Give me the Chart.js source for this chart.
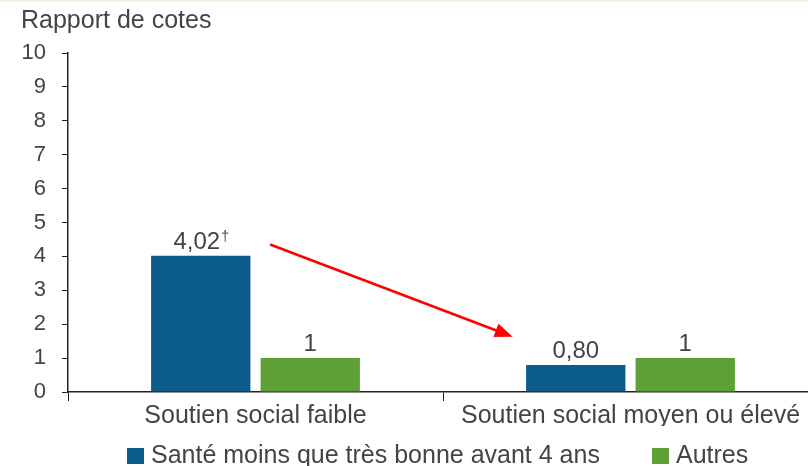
<!DOCTYPE html>
<html>
<head>
<meta charset="utf-8">
<script src="https://cdn.jsdelivr.net/npm/chart.js@4.4.0/dist/chart.umd.min.js"></script>
<style>
  html, body { margin: 0; padding: 0; background: #fff; overflow: hidden; }
  #wrap { width: 808px; height: 466px; position: relative; overflow: hidden; border-top: 2px solid #eef6e2; box-sizing: border-box; }
</style>
</head>
<body>
<div id="wrap"><canvas id="chart" width="818" height="464"></canvas></div>
<script>
// Chart data
const categories = ["Soutien social faible", "Soutien social moyen ou élevé"];
const seriesNames = ["Santé moins que très bonne avant 4 ans", "Autres"];
const santeValues = [4.02, 0.80];
const autresValues = [1, 1];
const santeLabels = ["4,02\u2020", "0,80"];
const autresLabels = ["1", "1"];
const yTicks = [0, 1, 2, 3, 4, 5, 6, 7, 8, 9, 10];

const textColor = '#444444';
const fontFamily = '"Liberation Sans", Arial, sans-serif';

// axis title at top left
const topTitle = {
  id: 'topTitle',
  afterDraw(chart) {
    const ctx = chart.ctx;
    ctx.save();
    ctx.fillStyle = textColor;
    ctx.font = '25px ' + fontFamily;
    ctx.textAlign = 'left';
    ctx.textBaseline = 'middle';
    ctx.fillText('Rapport de cotes', 21, 19);
    ctx.restore();
  }
};

// legend under the x labels
const bottomLegend = {
  id: 'bottomLegend',
  afterDraw(chart) {
    const ctx = chart.ctx;
    const starts = [127, 652];
    ctx.save();
    ctx.font = '25px ' + fontFamily;
    ctx.textBaseline = 'middle';
    chart.data.datasets.forEach((ds, i) => {
      ctx.fillStyle = ds.backgroundColor;
      ctx.fillRect(starts[i], 446, 17, 16);
      ctx.fillStyle = textColor;
      ctx.fillText(ds.label, starts[i] + 24, 454);
    });
    ctx.restore();
  }
};

// value labels above the bars (dagger drawn as a small superscript)
const valueLabels = {
  id: 'valueLabels',
  afterDatasetsDraw(chart) {
    const ctx = chart.ctx;
    const texts = [santeLabels, autresLabels];
    ctx.save();
    ctx.fillStyle = textColor;
    ctx.textBaseline = 'alphabetic';
    chart.data.datasets.forEach((ds, i) => {
      chart.getDatasetMeta(i).data.forEach((bar, j) => {
        const t = texts[i][j];
        const main = t.replace('\u2020', '');
        const sup = t.length > main.length ? '\u2020' : '';
        ctx.font = '24px ' + fontFamily;
        const w = ctx.measureText(main).width;
        ctx.font = '14px ' + fontFamily;
        const ws = sup ? ctx.measureText(sup).width : 0;
        const x0 = bar.x - (w + ws) / 2;
        ctx.textAlign = 'left';
        ctx.font = '24px ' + fontFamily;
        ctx.fillText(main, x0, bar.y - 7);
        if (sup) {
          ctx.font = '14px ' + fontFamily;
          ctx.fillText(sup, x0 + w + 1, bar.y - 15);
        }
      });
    });
    ctx.restore();
  }
};

// red arrow between the two groups
const arrow = {
  id: 'arrow',
  afterDraw(chart) {
    const x = chart.scales.x, y = chart.scales.y;
    const w = x.getPixelForValue(1) - x.getPixelForValue(0);
    const x1 = x.getPixelForValue(0) + w * 0.039, y1 = y.getPixelForValue(4.35);
    const x2 = x.getPixelForValue(1) - w * 0.314, y2 = y.getPixelForValue(1.63);
    const ang = Math.atan2(y2 - y1, x2 - x1);
    const ctx = chart.ctx;
    ctx.save();
    ctx.strokeStyle = '#ff0000';
    ctx.fillStyle = '#ff0000';
    ctx.lineWidth = 2.5;
    ctx.beginPath();
    ctx.moveTo(x1, y1);
    ctx.lineTo(x2 - 14 * Math.cos(ang), y2 - 14 * Math.sin(ang));
    ctx.stroke();
    ctx.beginPath();
    ctx.moveTo(x2, y2);
    ctx.lineTo(x2 - 18 * Math.cos(ang) + 7 * Math.sin(ang), y2 - 18 * Math.sin(ang) - 7 * Math.cos(ang));
    ctx.lineTo(x2 - 18 * Math.cos(ang) - 7 * Math.sin(ang), y2 - 18 * Math.sin(ang) + 7 * Math.cos(ang));
    ctx.closePath();
    ctx.fill();
    ctx.restore();
  }
};

document.addEventListener('DOMContentLoaded', function() {
  const ctx = document.getElementById('chart').getContext('2d');
  new Chart(ctx, {
    type: 'bar',
    data: {
      labels: categories,
      datasets: [{
        label: seriesNames[0],
        data: santeValues,
        backgroundColor: '#0b5b8c'
      }, {
        label: seriesNames[1],
        data: autresValues,
        backgroundColor: '#5e9f36'
      }]
    },
    options: {
      responsive: false,
      animation: false,
      categoryPercentage: 0.584,
      barPercentage: 0.907,
      layout: { padding: { left: 0, right: 0, top: 51, bottom: 40 } },
      plugins: {
        legend: { display: false },
        tooltip: { enabled: false }
      },
      scales: {
        y: {
          min: 0,
          max: 10,
          afterBuildTicks: (axis) => { axis.ticks = yTicks.map(v => ({ value: v })); },
          afterFit: (axis) => { axis.width = 68; },
          border: { color: '#222', width: 1.5 },
          grid: { drawOnChartArea: false, drawTicks: true, tickLength: 6, color: '#222' },
          ticks: {
            color: textColor,
            padding: 16,
            font: { family: fontFamily, size: 22 }
          }
        },
        x: {
          afterFit: (axis) => { axis.height = 34; },
          border: { color: '#222', width: 1.5 },
          grid: { offset: true, drawOnChartArea: false, drawTicks: true, tickLength: 9, color: '#222' },
          ticks: {
            color: textColor,
            padding: 0,
            font: { family: fontFamily, size: 25 }
          }
        }
      }
    },
    plugins: [topTitle, valueLabels, arrow, bottomLegend]
  });
});
</script>
</body>
</html>
